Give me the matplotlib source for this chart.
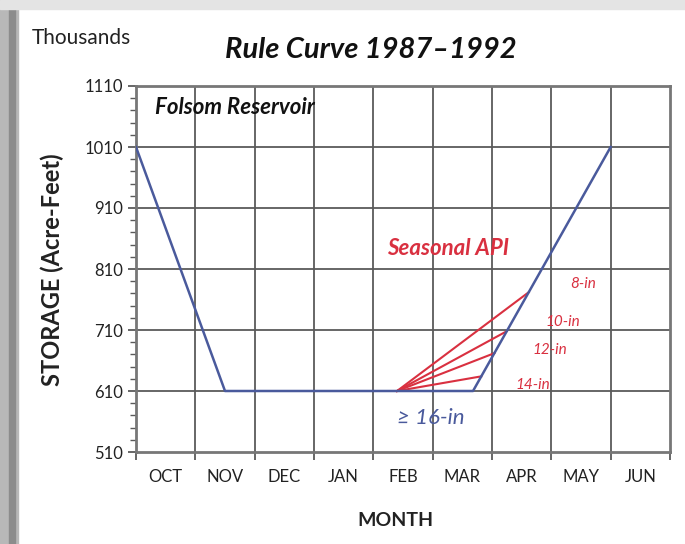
import matplotlib.pyplot as plt
from matplotlib.patches import Rectangle

# month positions: 0 = start of OCT, 9 = end of JUN
months = ["OCT", "NOV", "DEC", "JAN", "FEB", "MAR", "APR", "MAY", "JUN"]
yticks = [510, 610, 710, 810, 910, 1010, 1110]

# rule curve (blue)
rule_x = [0, 1.5, 5.68, 8.0]
rule_y = [1010, 610, 610, 1010]

# seasonal API curves (red), all start from the same point
api_labels = ["8-in", "10-in", "12-in", "14-in"]
api_start = (4.40, 610)
api_end_y = [772, 708, 672, 634]
api_label_x = [7.54, 7.20, 6.98, 6.68]
api_label_y = [785, 723, 677, 620]

blue = "#4a5a9c"
red = "#d93040"
grid_c = "#5a5a5a"
txt_c = "#222222"

plt.rcParams["font.family"] = ["Lato", "DejaVu Sans"]

fig = plt.figure(figsize=(6.85, 5.44), dpi=100)
ax = fig.add_axes([136 / 685, 1 - 452 / 544, 534 / 685, 366 / 544])

# page frame decoration
fig.patches.append(Rectangle((0, 0), 18 / 685, 1, transform=fig.transFigure,
                             color="#b8b8b8", zorder=-1))
fig.patches.append(Rectangle((9 / 685, 0), 6 / 685, 1, transform=fig.transFigure,
                             color="#8c8c8c", zorder=-1))
fig.patches.append(Rectangle((0, 1 - 9 / 544), 1, 9 / 544, transform=fig.transFigure,
                             color="#e4e4e4", zorder=-1))

ax.set_xlim(0, 9)
ax.set_ylim(510, 1110)

for v in yticks[1:-1]:
    ax.axhline(v, color=grid_c, lw=1.3, zorder=1)
for m in range(1, 9):
    ax.axvline(m, color=grid_c, lw=1.3, zorder=1)

ax.plot(rule_x, rule_y, color=blue, lw=1.8, zorder=3)

# end points of red lines lie on the rising limb of the rule curve
slope = (rule_y[3] - rule_y[2]) / (rule_x[3] - rule_x[2])
for ey in api_end_y:
    ex = rule_x[2] + (ey - rule_y[2]) / slope
    ax.plot([api_start[0], ex], [api_start[1], ey], color=red, lw=1.5, zorder=2)

for lab, lx, ly in zip(api_labels, api_label_x, api_label_y):
    ax.text(lx, ly, lab, color=red, fontsize=11, style="italic",
            ha="center", va="center", zorder=4)
ax.text(5.26, 844, "Seasonal API", color=red, fontsize=16, style="italic",
        fontweight="bold", ha="center", va="center")
ax.text(4.97, 566, "\u2265 16-in", color=blue, fontsize=16, style="italic",
        ha="center", va="center", family=["Lato", "DejaVu Sans"])
ax.text(0.32, 1074, "Folsom Reservoir", color="#111111", fontsize=16,
        style="italic", fontweight="bold", ha="left", va="center")

ax.set_yticks(yticks)
ax.set_yticks(range(530, 1110, 20), minor=True)
ax.set_xticks(range(10))
ax.set_xticks([m + 0.5 for m in range(9)], minor=True)
ax.set_xticklabels([])
ax.set_xticklabels(months, minor=True)
ax.tick_params(axis="x", which="major", length=6, width=1.3, color=grid_c)
ax.tick_params(axis="x", which="minor", length=0, labelsize=12, pad=12,
               labelcolor=txt_c)
ax.tick_params(axis="y", which="major", length=6, width=1.3, color=grid_c,
               labelsize=12, labelcolor=txt_c)
ax.tick_params(axis="y", which="minor", length=4, width=1, color=grid_c)

for s in ax.spines.values():
    s.set_color("#777777")
    s.set_linewidth(2)

fig.text(395 / 685, 1 - 520 / 544, "MONTH", fontsize=14, fontweight="bold",
         color=txt_c, ha="center", va="center")
fig.text(52 / 685, 1 - 270 / 544, "STORAGE (Acre-Feet)", fontsize=17,
         fontweight="bold", color=txt_c, ha="center", va="center", rotation=90)
fig.text(371 / 685, 1 - 50 / 544, "Rule Curve 1987\u20131992", fontsize=21,
         style="italic", fontweight="bold", color="#111111", ha="center",
         va="center")
fig.text(32 / 685, 1 - 38 / 544, "Thousands", fontsize=15, color=txt_c,
         ha="left", va="center")

fig.savefig("out.png", dpi=100)
